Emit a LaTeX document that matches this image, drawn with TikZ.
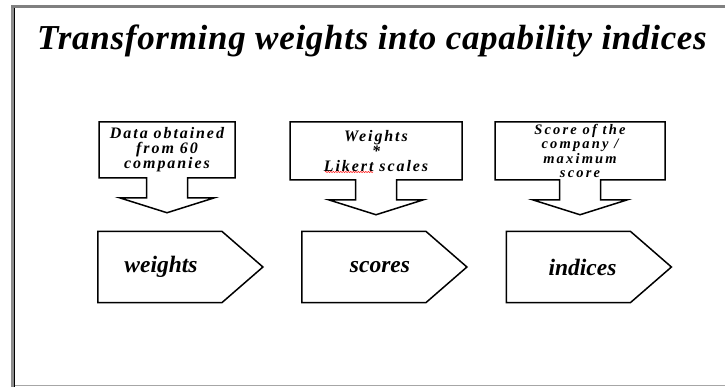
\documentclass[tikz,border=0pt]{standalone}
\usepackage{fontspec}
\setmainfont{Liberation Serif}
\usepackage{tikz}
\usetikzlibrary{shapes.arrows,shapes.symbols,decorations.pathmorphing}
\tikzset{
    source/.style = {
        arrow box,
        draw            = black,
        fill            = white,
        line width      = 1.5pt,
        align           = center,
        inner sep       = 0pt,
        arrow box arrows      = {south:34pt from border},
        arrow box shaft width = 41pt,
        arrow box head extend = 27pt,
        arrow box head indent = 0pt,
        arrow box tip angle   = 145,
        font = \bfseries\itshape\fontsize{16}{15}\selectfont\addfontfeatures{LetterSpace=12},
    },
    stage/.style = {
        signal,
        signal to       = east,
        signal pointer angle = 82,
        draw            = black,
        fill            = white,
        line width      = 1.5pt,
        minimum width   = 165pt,
        minimum height  = 71pt,
    },
    stagetext/.style = {
        font = \bfseries\itshape\fontsize{23.5}{23.5}\selectfont,
    }
}

\begin{document}
\begin{tikzpicture}[x=10pt,y=-10pt]
  \useasboundingbox (0,0) rectangle (72.5,38.7);
  % Frame
  \fill[gray!90] (1.1,0.5) rectangle (1.5,38.7);
  \fill[gray] (1.1,0.5) rectangle (72.5,0.8);
  \draw[black,line width=0.8pt] (1.45,0.8) -- (1.45,38.7);
  \draw[gray!70,line width=0.8pt] (1.5,38.55) -- (72.5,38.55);

  % Title
  \node[font=\bfseries\itshape\fontsize{35}{35}\selectfont\addfontfeatures{LetterSpace=2},anchor=base] (Title) at (37.2,5.0) {Transforming weights into capability indices};

  % Sources
  \node[source,minimum width=136pt,minimum height=56pt] (CompanyData) at (16.7,15.0) {Data obtained\\from 60\\companies};
  \node[source,minimum width=172pt,minimum height=58pt] (WeightedScales) at (37.6,15.1) {Weights\\*\\Likert scales};
  \node[source,minimum width=170pt,minimum height=58pt,font=\bfseries\itshape\fontsize{14.5}{14.5}\selectfont\addfontfeatures{LetterSpace=15}] (ScoreRatio) at (58.0,15.1) {Score of the\\company /\\maximum\\score};

  \draw[red,line width=0.5pt,decorate,decoration={snake,amplitude=0.6pt,segment length=2.5pt}] (32.5,17.2) -- (37.3,17.2);

  % Stages
  \node[stage] (Weights) at (16.0,26.7) {};
  \node[stage] (Scores) at (36.4,26.7) {};
  \node[stage] (Indices) at (56.85,26.7) {};

  \node[stagetext] (WeightsText) at ([xshift=1pt]Weights.center) {weights};
  \node[stagetext] (ScoresText) at ([xshift=16pt]Scores.center) {scores};
  \node[stagetext] (IndicesText) at ([xshift=14pt]Indices.center) {indices};

\end{tikzpicture}
\end{document}
